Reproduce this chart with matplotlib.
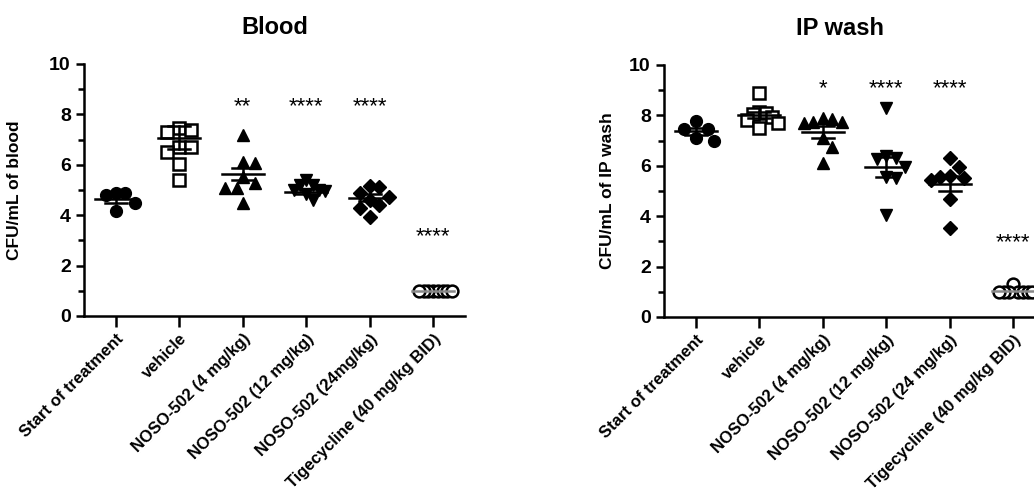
import matplotlib
matplotlib.use('Agg')

import numpy as np
import matplotlib.pyplot as plt

plt.rcParams['font.family'] = ['Liberation Sans', 'DejaVu Sans']

groups_blood = ['Start of treatment', 'vehicle', 'NOSO-502 (4 mg/kg)',
                'NOSO-502 (12 mg/kg)', 'NOSO-502 (24mg/kg)', 'Tigecycline (40 mg/kg BID)']
groups_ip = ['Start of treatment', 'vehicle', 'NOSO-502 (4 mg/kg)',
             'NOSO-502 (12 mg/kg)', 'NOSO-502 (24 mg/kg)', 'Tigecycline (40 mg/kg BID)']

# log CFU values
blood_start = [4.9, 4.8, 4.9, 4.5, 4.15]
blood_vehicle = [7.45, 7.38, 7.31, 6.72, 6.72, 6.52, 6.05, 5.4]
blood_4 = [7.18, 6.06, 6.12, 5.5, 5.29, 5.07, 5.07, 4.47]
blood_12 = [5.2, 5.4, 5.2, 5.0, 5.0, 4.85, 4.6, 4.95]
blood_24 = [5.13, 5.17, 4.87, 4.74, 4.4, 4.6, 4.27, 3.94]
blood_tige = [1.0, 1.0, 1.0, 1.0, 1.0, 1.0, 1.0, 1.0]
blood_mean = [4.64, 7.08, 5.63, 4.93, 4.7, 1.0]
blood_sem = [0.15, 0.45, 0.25, 0.09, 0.14, 0.0]
blood_stars = ['', '', '**', '****', '****', '****']
blood_star_y = [0, 0, 8.3, 8.3, 8.3, 3.15]

ip_start = [7.45, 7.78, 7.45, 7.0, 7.12]
ip_vehicle = [8.9, 8.15, 8.1, 8.05, 7.95, 7.8, 7.7, 7.5]
ip_4 = [7.9, 7.75, 7.7, 7.75, 7.85, 7.1, 6.75, 6.1]
ip_12 = [8.3, 6.4, 6.3, 6.25, 5.95, 5.55, 5.5, 4.05]
ip_24 = [6.3, 5.95, 5.55, 5.6, 5.5, 5.45, 4.7, 3.55]
ip_tige = [1.0, 1.0, 1.0, 1.3, 1.0, 1.0, 1.0, 1.0]
ip_mean = [7.37, 8.02, 7.34, 5.95, 5.29, 1.05]
ip_sem = [0.14, 0.13, 0.22, 0.4, 0.3, 0.0]
ip_stars = ['', '', '*', '****', '****', '****']
ip_star_y = [0, 0, 9.05, 9.05, 9.05, 2.95]

# marker, filled?, size
styles = [('o', True, 8.5), ('s', False, 8), ('^', True, 9),
          ('v', True, 9), ('D', True, 7), ('o', False, 8.5)]

XPX = 63.6   # pixels per group
YPX = 25.2   # pixels per log unit


def swarm(vals, d=12.0, step=6.0, limit=19.0):
    placed = []
    offs = []
    for v in sorted(vals, reverse=True):
        y = v * YPX
        k = 0
        ok = None
        while ok is None:
            cands = [0.0] if k == 0 else [k * step, -k * step]
            for c in cands:
                if all((c - px) ** 2 + (y - py) ** 2 >= d * d for px, py in placed):
                    ok = c
                    break
            k += 1
        placed.append((ok, y))
        offs.append(ok)
    offs = np.array(offs)
    m = np.abs(offs).max()
    if m > limit:
        offs = offs * limit / m
    return offs / XPX, np.array(sorted(vals, reverse=True))


def panel(ax, data, means, sems, stars, star_y, labels, title, ylabel, title_x):
    for i, vals in enumerate(data):
        mk, filled, ms = styles[i]
        dx, vv = swarm(vals)
        ax.plot(i + dx, vv, ls='none', marker=mk, ms=ms,
                mfc='black' if filled else 'white', mec='black',
                mew=1.0 if filled else 1.8, zorder=3, clip_on=False)
        lc = '#888888' if i == 5 else 'black'
        ax.plot([i - 0.33, i + 0.33], [means[i], means[i]], color=lc, lw=1.8, zorder=4)
        if sems[i] > 0:
            lo, hi = means[i] - sems[i], means[i] + sems[i]
            ax.plot([i, i], [lo, hi], color='black', lw=1.8, zorder=4)
            ax.plot([i - 0.17, i + 0.17], [lo, lo], color='black', lw=1.8, zorder=4)
            ax.plot([i - 0.17, i + 0.17], [hi, hi], color='black', lw=1.8, zorder=4)
        if stars[i]:
            ax.text(i, star_y[i], stars[i], ha='center', va='center', fontsize=16)
    ax.set_xlim(-0.5, 5.5)
    ax.set_ylim(0, 10)
    ax.set_yticks([0, 2, 4, 6, 8, 10])
    ax.set_yticks([1, 3, 5, 7, 9], minor=True)
    ax.set_xticks(range(6))
    ax.set_xticklabels(labels, rotation=45, ha='right', va='top',
                       rotation_mode='anchor', fontsize=12, fontweight='bold')
    for t in ax.get_yticklabels():
        t.set_fontweight('bold')
    ax.tick_params(axis='both', which='major', length=6, width=1.8, labelsize=14)
    ax.tick_params(axis='x', labelsize=12, length=8, pad=3)
    ax.tick_params(axis='y', which='minor', length=4, width=1.8)
    for s in ['top', 'right']:
        ax.spines[s].set_visible(False)
    for s in ['left', 'bottom']:
        ax.spines[s].set_linewidth(1.8)
    ax.set_ylabel(ylabel, fontsize=12.5, fontweight='bold')
    ax.text(title_x, 1.1, title, transform=ax.transAxes, ha='center', va='bottom',
            fontsize=17, fontweight='bold')


fig = plt.figure(figsize=(10.34, 4.98), dpi=100)
ax1 = fig.add_axes([0.0812, 0.3655, 0.3685, 0.506])
ax2 = fig.add_axes([0.6422, 0.3635, 0.3685, 0.506])

panel(ax1, [blood_start, blood_vehicle, blood_4, blood_12, blood_24, blood_tige],
      blood_mean, blood_sem, blood_stars, blood_star_y, groups_blood,
      'Blood', 'CFU/mL of blood', 0.5)
ax1.yaxis.set_label_coords(-0.163, 0.5)

panel(ax2, [ip_start, ip_vehicle, ip_4, ip_12, ip_24, ip_tige],
      ip_mean, ip_sem, ip_stars, ip_star_y, groups_ip,
      'IP wash', 'CFU/mL of IP wash', 0.462)
ax2.yaxis.set_label_coords(-0.129, 0.5)

fig.savefig('out.png', dpi=100)
